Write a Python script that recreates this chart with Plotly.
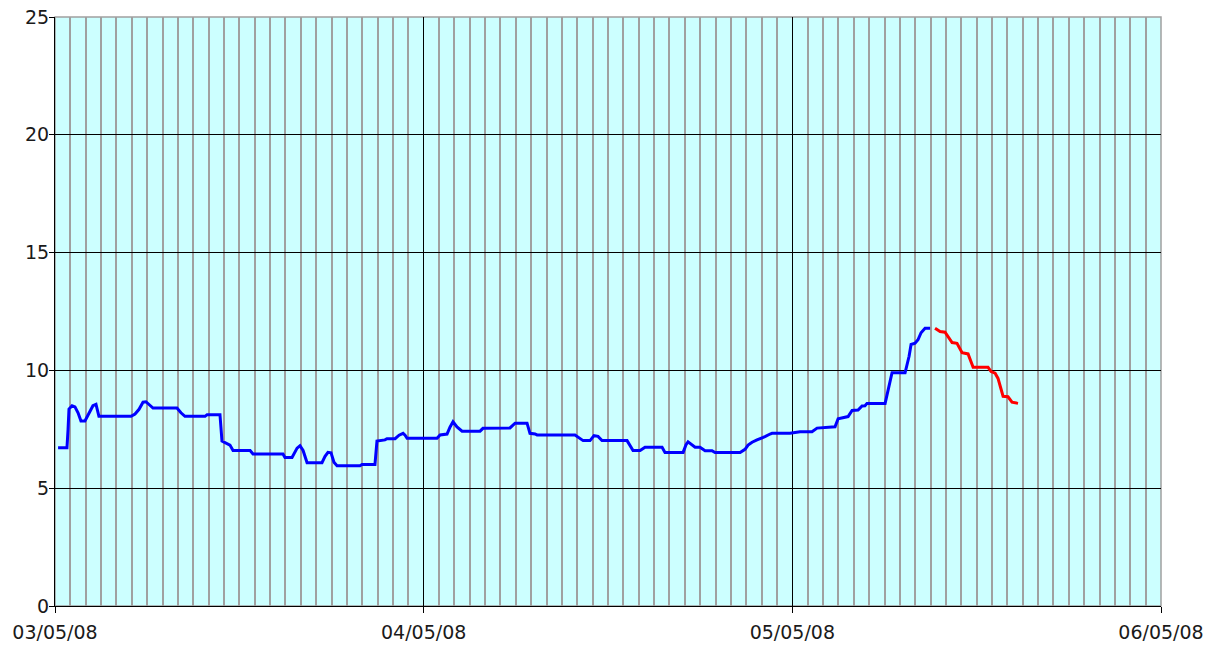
import pandas as pd
import plotly.graph_objects as go

start = pd.Timestamp("2008-05-03 00:00")

# Observed series (hours since 03/05/08 00:00, value)
obs_hours = [0.20, 0.78, 0.85, 0.91, 1.11, 1.30, 1.50, 1.69, 1.95, 2.21, 2.47, 2.67, 2.86,
             4.95, 5.21, 5.47, 5.73, 5.92, 6.18, 6.38, 7.94, 8.20, 8.46, 9.77, 9.90, 10.74,
             10.87, 11.13, 11.39, 11.59, 12.70, 12.89, 14.84, 14.97, 15.43, 15.76, 15.95,
             16.15, 16.41, 17.38, 17.58, 17.77, 17.97, 18.16, 18.36, 19.86, 19.99, 20.83,
             20.96, 21.48, 21.61, 22.14, 22.40, 22.66, 22.79, 22.92, 24.87, 25.07, 25.52,
             25.72, 25.91, 26.17, 26.50, 27.67, 27.86, 29.62, 29.75, 29.95, 30.73, 30.92,
             31.25, 31.38, 33.85, 34.18, 34.38, 34.83, 35.09, 35.35, 35.61, 37.24, 37.43,
             37.63, 38.09, 38.41, 39.52, 39.71, 40.89, 41.08, 41.21, 41.47, 41.67, 41.99,
             42.32, 42.77, 42.97, 44.60, 44.92, 45.12, 45.38, 45.70, 46.03, 46.22, 46.55,
             46.68, 47.85, 48.50, 49.28, 49.61, 50.78, 50.98, 51.63, 51.89, 52.28, 52.54,
             52.73, 52.86, 54.04, 54.23, 54.49, 55.34, 55.60, 55.73, 55.99, 56.18, 56.38,
             56.64, 56.97]
obs_values = [6.72, 6.72, 7.50, 8.36, 8.50, 8.45, 8.20, 7.85, 7.85, 8.20, 8.50, 8.56, 8.05,
              8.05, 8.15, 8.35, 8.65, 8.67, 8.50, 8.40, 8.40, 8.20, 8.05, 8.05, 8.12, 8.12,
              7.00, 6.90, 6.83, 6.60, 6.60, 6.45, 6.45, 6.30, 6.30, 6.70, 6.80,
              6.60, 6.08, 6.08, 6.35, 6.52, 6.50, 6.10, 5.95, 5.95, 6.01, 6.01,
              7.00, 7.05, 7.10, 7.10, 7.25, 7.33, 7.25, 7.12, 7.12, 7.26, 7.30,
              7.60, 7.82, 7.60, 7.42, 7.42, 7.54, 7.56, 7.63, 7.76, 7.76, 7.33,
              7.30, 7.26, 7.26, 7.10, 7.02, 7.02, 7.23, 7.20, 7.02, 7.02, 6.80,
              6.60, 6.60, 6.74, 6.74, 6.52, 6.52, 6.85, 6.97, 6.85, 6.74, 6.74,
              6.59, 6.59, 6.51, 6.51, 6.65, 6.83, 6.95, 7.05, 7.12, 7.19, 7.30,
              7.33, 7.33, 7.40, 7.40, 7.55, 7.61, 7.95, 8.04, 8.30, 8.32, 8.49,
              8.50, 8.60, 8.60, 9.10, 9.90, 9.90, 10.60, 11.10, 11.15, 11.30, 11.60,
              11.79, 11.79]

# Forecast series
fc_hours = [57.29, 57.62, 57.94, 58.20, 58.40, 58.72, 58.92, 59.05, 59.44, 59.64, 59.77,
            60.74, 60.94, 61.20, 61.39, 61.59, 61.72, 62.04, 62.30, 62.69]
fc_values = [11.79, 11.65, 11.62, 11.40, 11.18, 11.15, 10.90, 10.75, 10.70, 10.40, 10.13,
             10.13, 9.95, 9.88, 9.66, 9.20, 8.90, 8.88, 8.65, 8.60]

x_start = "2008-05-03 00:00"
x_end = "2008-05-06 00:00"
y_range = [0, 25]

obs_x = [start + pd.Timedelta(hours=h) for h in obs_hours]
fc_x = [start + pd.Timedelta(hours=h) for h in fc_hours]

fig = go.Figure()
fig.add_trace(go.Scatter(x=obs_x, y=obs_values, mode="lines",
                         line=dict(color="#0000FF", width=3), showlegend=False))
fig.add_trace(go.Scatter(x=fc_x, y=fc_values, mode="lines",
                         line=dict(color="#FF0000", width=3), showlegend=False))

font = dict(family="DejaVu Sans", size=19, color="#1a1a1a")

# page body has an 8px default margin, so the figure is sized to sit inside it
fig.update_layout(
    width=1212, height=638,
    margin=dict(l=47, r=59, t=9, b=40, autoexpand=False),
    paper_bgcolor="white",
    plot_bgcolor="#CCFFFF",
    font=font,
    xaxis=dict(
        range=[x_start, x_end],
        type="date",
        tickformat="%d/%m/%y",
        dtick=86400000,
        tick0=x_start,
        automargin=False,
        showgrid=True, gridcolor="#000000", gridwidth=1,
        minor=dict(dtick=3600000, tick0=x_start, showgrid=True,
                   gridcolor="#A0A0A0", gridwidth=2),
        showline=True, linecolor="#000000", linewidth=1,
        ticks="outside", ticklen=6, tickcolor="#000000",
        ticklabelstandoff=3, ticklabeloverflow="allow",
        zeroline=False, tickfont=font,
    ),
    yaxis=dict(
        range=y_range,
        dtick=5,
        automargin=False,
        showgrid=True, gridcolor="#000000", gridwidth=1,
        showline=True, linecolor="#000000", linewidth=1,
        ticks="outside", ticklen=5, tickcolor="#000000",
        ticklabelstandoff=-4, ticklabeloverflow="allow",
        zeroline=False, tickfont=font,
    ),
    shapes=[dict(type="rect", xref="paper", yref="paper", x0=0, y0=0, x1=1, y1=1,
                 line=dict(color="#A0A0A0", width=1.5), layer="below")],
)

fig.write_html("out.html")
